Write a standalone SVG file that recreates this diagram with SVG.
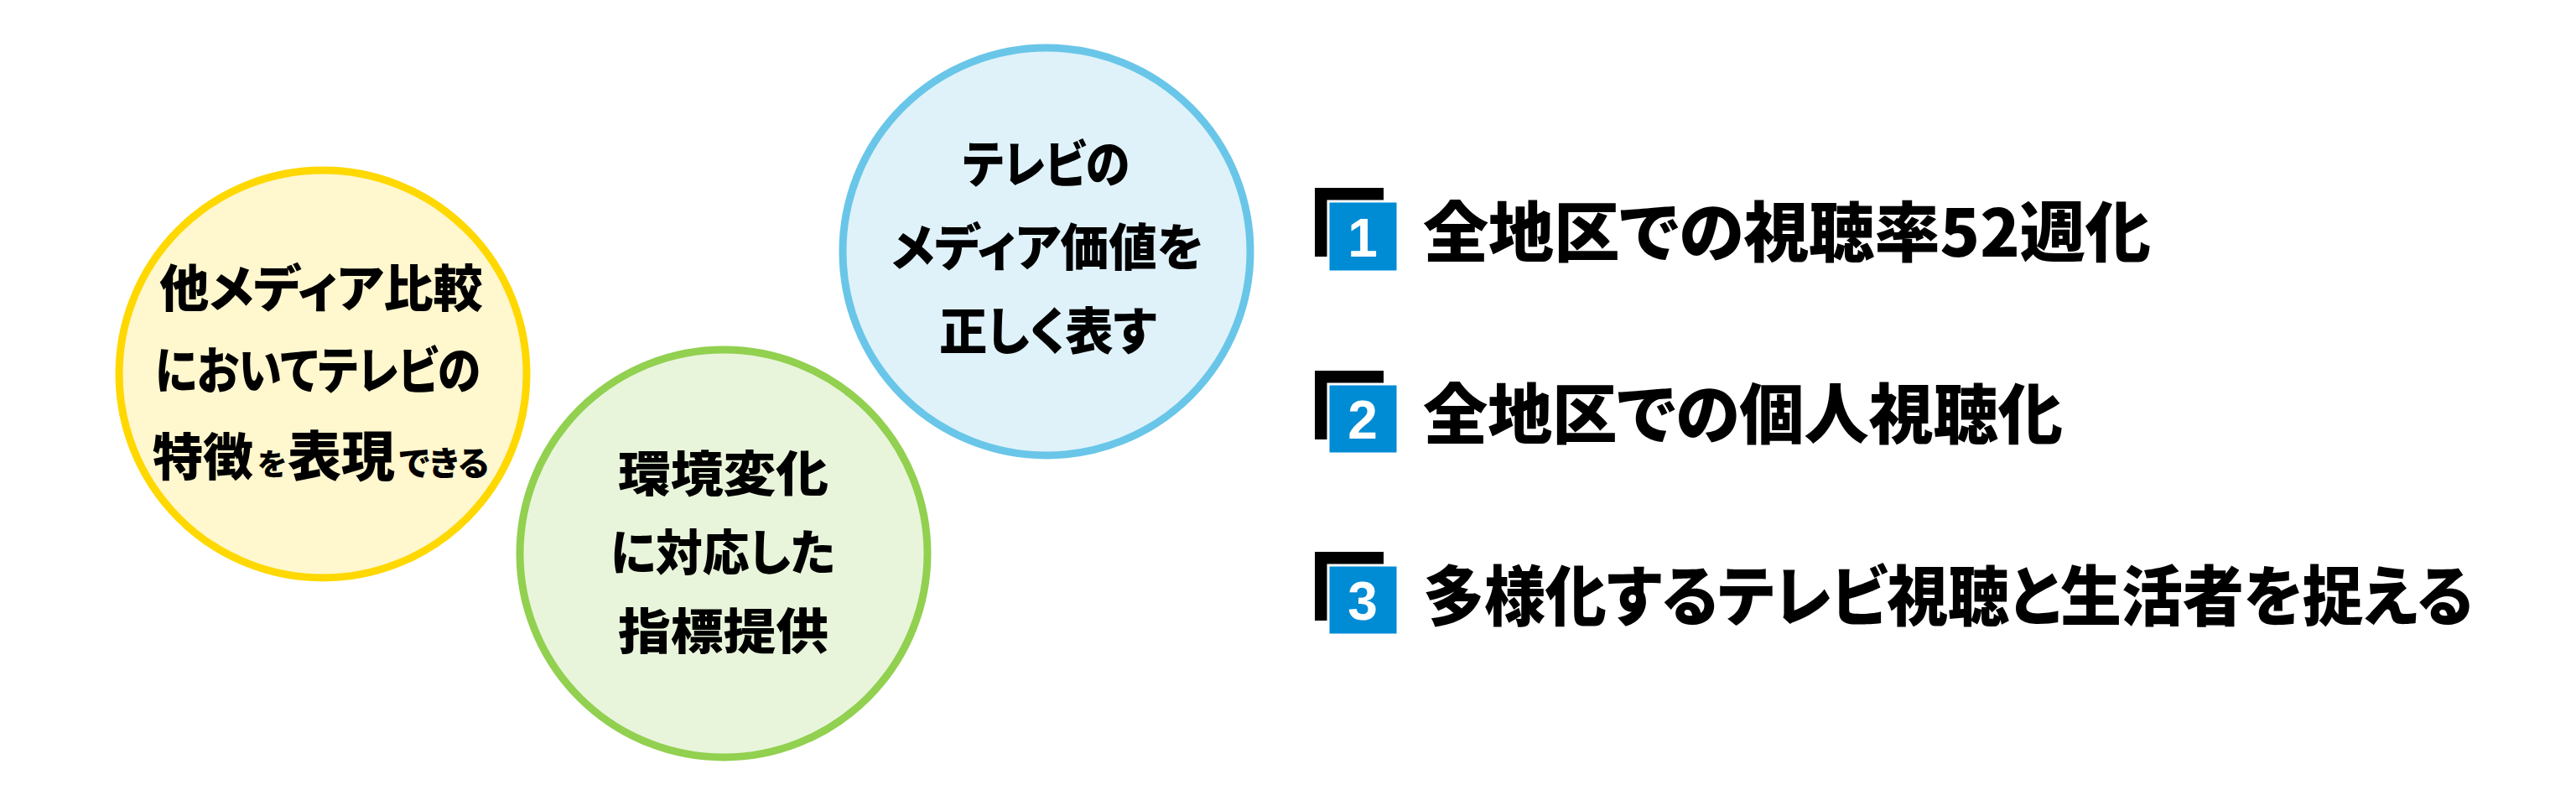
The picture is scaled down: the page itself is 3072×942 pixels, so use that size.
<svg xmlns="http://www.w3.org/2000/svg" width="3072" height="942" viewBox="0 0 3072 942">
<style>
.t{font-family:"Noto Sans CJK JP","Noto Sans CJK SC",sans-serif;font-weight:900;fill:#000;font-feature-settings:"palt"}
.c{font-size:60px}
.g{font-size:58px}
.r{font-size:78px}
.num{font-family:"Liberation Sans",Arial,sans-serif;font-weight:700;font-size:64px;fill:#fff}
.sqk{fill:#000}
.sqb{fill:#008BD5;stroke:#fff;stroke-width:3}
</style>
<rect width="3072" height="942" fill="#fff"/>
<g id="node-yellow">
<circle cx="385" cy="446" r="243" fill="#FFF7CE" stroke="#FFD800" stroke-width="9"/>
<text class="t c" x="190" y="366" textLength="386" lengthAdjust="spacingAndGlyphs">他メディア比較</text>
<text class="t c" x="185" y="464" textLength="388" lengthAdjust="spacingAndGlyphs">においてテレビの</text>
<text class="t" y="567"><tspan x="182" font-size="60">特徴</tspan><tspan x="307" font-size="36">を</tspan><tspan x="343" font-size="64">表現</tspan><tspan x="476" font-size="40">できる</tspan></text>
</g>
<g id="node-green">
<circle cx="863" cy="660" r="243" fill="#E8F5DB" stroke="#92D050" stroke-width="9"/>
<text class="t g" x="737" y="586" textLength="251" lengthAdjust="spacingAndGlyphs">環境変化</text>
<text class="t g" x="728" y="680" textLength="268" lengthAdjust="spacingAndGlyphs">に対応した</text>
<text class="t g" x="737" y="774" textLength="251" lengthAdjust="spacingAndGlyphs">指標提供</text>
</g>
<g id="node-blue">
<circle cx="1248" cy="300" r="243" fill="#DFF2FA" stroke="#69C6E8" stroke-width="9"/>
<text class="t c" x="1148" y="218" textLength="199" lengthAdjust="spacingAndGlyphs">テレビの</text>
<text class="t c" x="1063" y="317" textLength="372" lengthAdjust="spacingAndGlyphs">メディア価値を</text>
<text class="t c" x="1120" y="417" textLength="259" lengthAdjust="spacingAndGlyphs">正しく表す</text>
</g>
<g id="item-1">
<rect class="sqk" x="1568" y="224" width="82" height="82"/>
<rect class="sqb" x="1584" y="240" width="83" height="84"/>
<text class="num" x="1625" y="306" text-anchor="middle">1</text>
<text class="t r" x="1697" y="306" textLength="868" lengthAdjust="spacingAndGlyphs">全地区での視聴率52週化</text>
</g>
<g id="item-2">
<rect class="sqk" x="1568" y="442" width="82" height="82"/>
<rect class="sqb" x="1584" y="458" width="83" height="83"/>
<text class="num" x="1625" y="523" text-anchor="middle">2</text>
<text class="t r" x="1697" y="523" textLength="763" lengthAdjust="spacingAndGlyphs">全地区での個人視聴化</text>
</g>
<g id="item-3">
<rect class="sqk" x="1568" y="658" width="82" height="82"/>
<rect class="sqb" x="1584" y="674" width="83" height="83"/>
<text class="num" x="1625" y="739" text-anchor="middle">3</text>
<text class="t r" x="1697" y="740" textLength="1252" lengthAdjust="spacingAndGlyphs">多様化するテレビ視聴と生活者を捉える</text>
</g>
<g id="connectors"></g>
</svg>
